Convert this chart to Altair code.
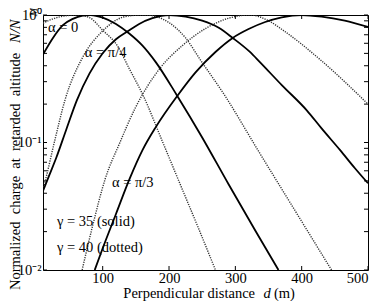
import altair as alt
import pandas as pd

# gamma = 35 (solid)
s0_d = [10, 25, 40, 55, 70, 82, 100, 120, 140, 160, 180, 212, 250, 290, 330, 365]
s0_v = [0.49, 0.661, 0.832, 0.933, 0.989, 1.0, 0.955, 0.851, 0.716, 0.575, 0.427, 0.234, 0.1096, 0.0468, 0.0204, 0.0100]

s45_d = [10, 20, 30, 45, 61, 80, 100, 120, 137, 155, 175, 200, 225, 250, 275, 296, 322, 337, 370, 408, 430, 458, 480, 500]
s45_v = [0.0417, 0.0562, 0.0759, 0.126, 0.214, 0.347, 0.501, 0.646, 0.741, 0.851, 0.944, 1.0, 0.973, 0.902, 0.794, 0.661, 0.513, 0.427, 0.282, 0.178, 0.129, 0.0871, 0.0631, 0.0479]

s60_d = [88, 100, 120, 141, 160, 180, 213, 240, 270, 296, 320, 345, 370, 400, 430, 465, 500]
s60_v = [0.0100, 0.0148, 0.0275, 0.0525, 0.0871, 0.132, 0.234, 0.355, 0.513, 0.661, 0.776, 0.881, 0.959, 1.0, 0.971, 0.902, 0.805]

# gamma = 40 (dotted)
d0_d = [10, 20, 35, 50, 62, 80, 100, 122, 140, 161, 190, 217, 245, 270]
d0_v = [0.861, 0.912, 0.966, 0.993, 1.0, 0.955, 0.759, 0.575, 0.380, 0.234, 0.102, 0.0468, 0.0209, 0.0100]

d45_d = [10, 13, 28, 43, 70, 99, 131, 150, 165, 200, 225, 247, 284, 334, 380, 445]
d45_v = [0.0427, 0.0490, 0.105, 0.214, 0.468, 0.741, 0.964, 0.995, 1.0, 0.871, 0.661, 0.447, 0.234, 0.0871, 0.0355, 0.0100]

d60_d = [69, 85, 103.5, 126, 149, 186, 220, 257, 290, 322, 350, 372, 430, 500]
d60_v = [0.0100, 0.0224, 0.0513, 0.100, 0.186, 0.380, 0.575, 0.794, 0.944, 1.0, 0.902, 0.759, 0.437, 0.200]

x_ticks = [100, 200, 300, 400, 500]
y_ticks = [0.01, 0.1, 1]
y_tick_labels = ["10⁻²", "10⁻¹", "10⁰"]
y_minor = [0.02, 0.03, 0.04, 0.05, 0.06, 0.07, 0.08, 0.09,
           0.2, 0.3, 0.4, 0.5, 0.6, 0.7, 0.8, 0.9]

ann_text = ["α = 0", "α = π/4", "α = π/3", "γ = 35  (solid)", "γ = 40  (dotted)"]
ann_d = [17.5, 73, 114, 31, 31]
ann_v = [0.79, 0.503, 0.048, 0.0238, 0.0149]

FONT = "Liberation Serif"
FS = 14.5
NB = " \u00a0"

def mk(curves):
    rows = []
    for name, ds, vs in curves:
        for d, v in zip(ds, vs):
            rows.append({"curve": name, "d": d, "v": v})
    return pd.DataFrame(rows)

solid = mk([("a0", s0_d, s0_v), ("a45", s45_d, s45_v), ("a60", s60_d, s60_v)])
dotted = mk([("a0", d0_d, d0_v), ("a45", d45_d, d45_v), ("a60", d60_d, d60_v)])

lab_expr = " : ".join(
    [f"datum.value > {v*0.5} ? '{l}'" for v, l in sorted(zip(y_ticks, y_tick_labels), reverse=True)[:-1]]
) + f" : '{y_tick_labels[0]}'"

xs = alt.Scale(domain=[10, 500], nice=False, zero=False)
ys = alt.Scale(type="log", domain=[0.01, 1], nice=False)
x_enc = alt.X("d:Q", scale=xs, axis=alt.Axis(values=x_ticks, ticks=False, domain=False, grid=False,
                                            labelFont=FONT, labelFontSize=FS, labelColor="black",
                                            labelPadding=1, title=None))
y_enc = alt.Y("v:Q", scale=ys, axis=alt.Axis(values=y_ticks, labelExpr=lab_expr, ticks=False, domain=False,
                                            grid=False, labelFont=FONT, labelFontSize=FS, labelColor="black",
                                            labelPadding=2, title=None))

solid_l = alt.Chart(solid).mark_line(color="black", strokeWidth=1.8, clip=True, interpolate="monotone").encode(
    x=x_enc, y=y_enc, detail="curve:N")
dotted_l = alt.Chart(dotted).mark_line(color="#333", strokeWidth=1.4, strokeDash=[1.2, 1.2], clip=True,
                                       interpolate="monotone").encode(x=x_enc, y=y_enc, detail="curve:N")

xt = pd.DataFrame({"d": x_ticks})
yt = pd.DataFrame({"v": y_ticks + y_minor})
tick_b = alt.Chart(xt).mark_rule(color="black", strokeWidth=1).encode(x=x_enc, y=alt.value(255), y2=alt.value(251))
tick_t = alt.Chart(xt).mark_rule(color="black", strokeWidth=1).encode(x=x_enc, y=alt.value(0), y2=alt.value(4))
tick_l = alt.Chart(yt).mark_rule(color="black", strokeWidth=1).encode(y=y_enc, x=alt.value(0), x2=alt.value(4))
tick_r = alt.Chart(yt).mark_rule(color="black", strokeWidth=1).encode(y=y_enc, x=alt.value(325), x2=alt.value(321))

ann = pd.DataFrame({"d": ann_d, "v": ann_v, "t": ann_text})
ann_l = alt.Chart(ann).mark_text(align="left", baseline="middle", font=FONT, fontSize=FS, color="black").encode(
    x=x_enc, y=y_enc, text="t:N")

one = pd.DataFrame({"k": [0]})
def txt(s, x, y, **kw):
    return alt.Chart(one).mark_text(font=FONT, color="black", baseline="middle", **kw).encode(
        x=alt.value(x), y=alt.value(y), text=alt.value(s))

ytitle = NB.join(["Normalized", "charge", "at", "retarded", "altitude"])
titles = [
    txt(ytitle, -27.5, 275, angle=270, align="left", fontSize=14.5),
    txt("N/N", -27.5, 28, angle=270, align="left", fontSize=14.5, fontStyle="italic"),
    txt("M", -9, -3, angle=270, align="center", fontSize=10, fontStyle="italic"),
    txt("Perpendicular distance", 212, 279, align="right", fontSize=FS),
    txt("d", 224, 279, align="center", fontSize=FS, fontStyle="italic"),
    txt("(m)", 231, 279, align="left", fontSize=FS),
]

chart = alt.layer(dotted_l, solid_l, tick_b, tick_t, tick_l, tick_r, ann_l, *titles).properties(
    width=325, height=255,
    autosize=alt.AutoSizeParams(type="none"),
    padding={"left": 35, "top": 7, "right": 6, "bottom": 31},
).configure_view(stroke="black", strokeWidth=1)

chart.save("out.html", embed_options={"renderer": "svg", "actions": False})
